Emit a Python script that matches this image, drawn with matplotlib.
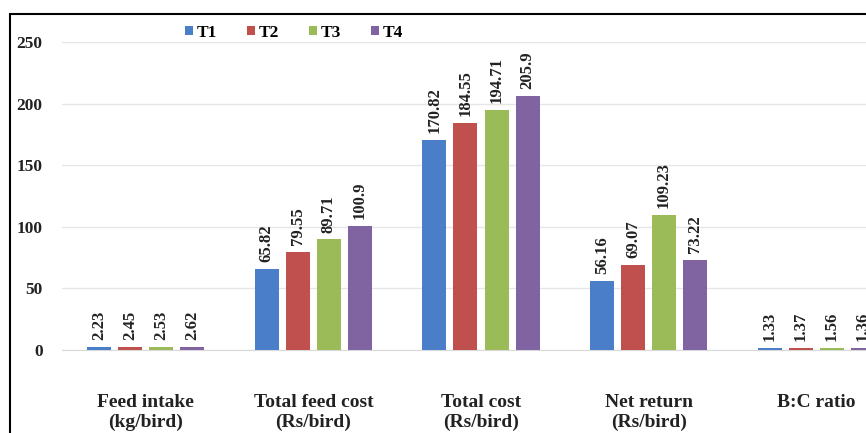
import matplotlib
matplotlib.use("Agg")
import matplotlib.pyplot as plt
import numpy as np
from matplotlib.patches import Rectangle

categories = ["Feed intake\n(kg/bird)", "Total feed cost\n(Rs/bird)", "Total cost\n(Rs/bird)",
              "Net return\n(Rs/bird)", "B:C ratio"]
series_names = ["T1", "T2", "T3", "T4"]
T1 = [2.23, 65.82, 170.82, 56.16, 1.33]
T2 = [2.45, 79.55, 184.55, 69.07, 1.37]
T3 = [2.53, 89.71, 194.71, 109.23, 1.56]
T4 = [2.62, 100.9, 205.9, 73.22, 1.36]
labels_T1 = ["2.23", "65.82", "170.82", "56.16", "1.33"]
labels_T2 = ["2.45", "79.55", "184.55", "69.07", "1.37"]
labels_T3 = ["2.53", "89.71", "194.71", "109.23", "1.56"]
labels_T4 = ["2.62", "100.9", "205.9", "73.22", "1.36"]
yticks = [0, 50, 100, 150, 200, 250]

colors = ["#4a7ec8", "#c0504d", "#9bbb59", "#8064a2"]
serif = ["Liberation Serif", "DejaVu Serif"]

W, H = 866, 433
fig = plt.figure(figsize=(W / 100, H / 100), dpi=100)

# chart border (extends beyond image on right/bottom)
fig.patches.append(Rectangle((10 / W, -0.5), 2.0, 1 - 14 / H + 0.5,
                             transform=fig.transFigure, fill=False,
                             edgecolor="black", linewidth=1.5, zorder=0))

left_px, right_px = 62, 900
bottom_px, top_px = 350, 42
ax = fig.add_axes([left_px / W, 1 - bottom_px / H, (right_px - left_px) / W,
                   (bottom_px - top_px) / H])
ax.set_xlim(-0.5, len(categories) - 0.5)
ax.set_ylim(0, 250)

x = np.arange(len(categories))
pitch = 31 / 167.5
width = 24 / 167.5
data = [T1, T2, T3, T4]
labs = [labels_T1, labels_T2, labels_T3, labels_T4]
for i, (vals, lab, c, name) in enumerate(zip(data, labs, colors, series_names)):
    pos = x + (i - 1.5) * pitch
    bars = ax.bar(pos, vals, width=width, color=c, label=name, zorder=3)
    for b, t in zip(bars, lab):
        ax.annotate(t, (b.get_x() + b.get_width() / 2, b.get_height()),
                    xytext=(0, 5), textcoords="offset points", rotation=90,
                    ha="center", va="bottom", fontsize=12, fontweight="bold",
                    family=serif, color="#222222")

ax.set_yticks(yticks)
ax.set_yticklabels([str(v) for v in yticks], fontsize=12.5, fontweight="bold",
                   family=serif, color="#222222")
ax.set_xticks(x)
ax.set_xticklabels(categories, fontsize=14, fontweight="bold", family=serif,
                   color="#222222", linespacing=1.2)
ax.tick_params(axis="both", length=0)
ax.tick_params(axis="y", pad=14)
ax.tick_params(axis="x", pad=32)
ax.grid(axis="y", color="#e6e6e6", linewidth=1, zorder=0)
for s in ["top", "right", "left"]:
    ax.spines[s].set_visible(False)
ax.spines["bottom"].set_color("#d9d9d9")
ax.set_facecolor("none")

leg = fig.legend(loc="center", bbox_to_anchor=(294 / W, 1 - 33 / H), ncol=4,
                 frameon=False, handlelength=0.45, handleheight=0.45,
                 handletextpad=0.2, columnspacing=1.75,
                 prop={"family": serif, "weight": "bold", "size": 12.5})

fig.savefig("out.png", dpi=100)
